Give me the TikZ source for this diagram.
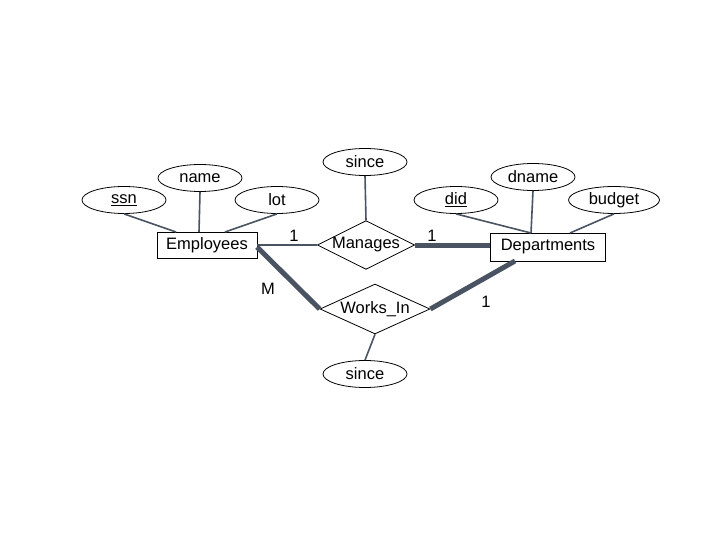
\documentclass[tikz,border=0pt]{standalone}
\usepackage{fontspec}
\setmainfont{Liberation Sans}
\usetikzlibrary{shapes.geometric}
\definecolor{ln}{HTML}{4A5362}
\begin{document}
\begin{tikzpicture}[x=1pt,y=-1pt,font=\fontsize{16.5}{18}\selectfont,
  attr/.style={draw,thick,ellipse,minimum width=84pt,minimum height=27pt,inner sep=0pt},
  ent/.style={draw,thick,rectangle,inner sep=0pt},
  rel/.style={draw,thick,diamond,aspect=2,inner sep=0pt},
  thin/.style={ln,line width=1.6pt},
  thk/.style={ln,line width=5pt}]
\useasboundingbox (0,0) rectangle (720,540);
\node[attr] (ssn) at (124,200) {\underline{ssn}};
\node[attr] (name) at (200,178) {name};
\node[attr] (lot) at (277,200) {lot};
\node[attr] (since1) at (365,162) {since};
\node[attr] (dname) at (533,177) {dname};
\node[attr] (did) at (456,200) {\underline{did}};
\node[attr,minimum width=91pt] (budget) at (614,200) {budget};
\node[ent,minimum width=100pt,minimum height=26pt] (emp) at (207,245) {Employees};
\node[ent,minimum width=115pt,minimum height=28pt] (dep) at (548,247) {Departments};
\node[rel,minimum width=94pt,minimum height=48pt] (man) at (366,245) {Manages};
\node[rel,minimum width=110pt,minimum height=48pt] (wi) at (375,309) {Works\_In};
\node[attr] (since2) at (365,374) {since};
\draw[thin] (ssn.south) -- (176,232);
\draw[thin] (name.south) -- (199,232);
\draw[thin] (lot.south) -- (225,232);
\draw[thin] (since1.south) -- (man.north);
\draw[thin] (dname.south) -- (531,233);
\draw[thin] (did.south) -- (531,233);
\draw[thin] (budget.south) -- (570,233);
\draw[thin] (emp.east) -- (man.west);
\draw[thk] (man.east) -- (man.east -| dep.west);
\draw[thk] (257,247) -- (wi.west);
\draw[thk] (wi.east) -- (515,261);
\draw[thin] (wi.south) -- (since2.north);
\node (l1) at (294,236) {1};
\node (l2) at (432,236) {1};
\node (lm) at (268,289) {M};
\node (l3) at (486,302) {1};
\end{tikzpicture}
\end{document}
